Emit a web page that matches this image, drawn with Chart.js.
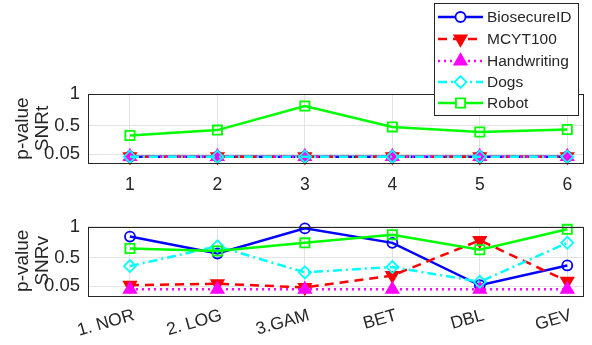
<!DOCTYPE html>
<html><head><meta charset="utf-8">
<script src="https://cdn.jsdelivr.net/npm/chart.js@4/dist/chart.umd.min.js"></script>
<style>
html,body{margin:0;padding:0;background:#fff;width:592px;height:345px;overflow:hidden;}
#c1{position:absolute;left:0;top:0;}
#c2{position:absolute;left:0;top:200px;}
</style></head><body>
<canvas id="c1" width="592" height="200"></canvas>
<canvas id="c2" width="592" height="145"></canvas>
<script>
// ---- data ----
const seriesNames = ['BiosecureID', 'MCYT100', 'Handwriting', 'Dogs', 'Robot'];
const topTickLabels = ['1', '2', '3', '4', '5', '6'];
const bottomCategories = ['1. NOR', '2. LOG', '3.GAM', 'BET', 'DBL', 'GEV'];
const yTickValues = [0.05, 0.5, 1];
const yTickLabels = ['0.05', '0.5', '1'];

// p-value SNRt (top panel)
const snrtBiosecureID = [0.01, 0.01, 0.01, 0.01, 0.01, 0.01];
const snrtMCYT100     = [0.01, 0.01, 0.01, 0.01, 0.01, 0.01];
const snrtHandwriting = [0.01, 0.01, 0.01, 0.01, 0.01, 0.01];
const snrtDogs        = [0.01, 0.01, 0.01, 0.01, 0.01, 0.01];
const snrtRobot       = [0.345, 0.43, 0.81, 0.48, 0.40, 0.44];

// p-value SNRv (bottom panel)
const snrvBiosecureID = [0.84, 0.57, 0.97, 0.74, 0.065, 0.38];
const snrvMCYT100     = [0.065, 0.09, 0.03, 0.22, 0.78, 0.13];
const snrvHandwriting = [0.0, 0.0, 0.0, 0.0, 0.0, 0.0];
const snrvDogs        = [0.37, 0.685, 0.27, 0.355, 0.12, 0.74];
const snrvRobot       = [0.65, 0.61, 0.74, 0.87, 0.63, 0.955];

// ---- styles ----
const FONT = "'Liberation Sans', Arial, Helvetica, sans-serif";
const TXT = '#262626';
const styles = [
  {color:'#0000ff', dash:[], pointStyle:'circle', radius:5, rot:0, fill:false},
  {color:'#ff0000', dash:[9,6], pointStyle:'triangle', radius:7, rot:180, fill:true},
  {color:'#ff00ff', dash:[2,4], pointStyle:'triangle', radius:7, rot:0, fill:true},
  {color:'#00ffff', dash:[9,4,2,4], pointStyle:'rectRot', radius:6, rot:0, fill:false},
  {color:'#00ff00', dash:[], pointStyle:'rect', radius:6.5, rot:0, fill:false}
];

function makeDatasets(arrs){
  return arrs.map((arr, i) => {
    const s = styles[i];
    return {
      label: seriesNames[i],
      data: arr.map((v, k) => ({x: k + 1, y: v})),
      borderColor: s.color,
      backgroundColor: s.color,
      borderWidth: 2.5,
      borderDash: s.dash,
      pointStyle: s.pointStyle,
      pointRadius: s.radius,
      pointRotation: s.rot,
      pointBorderWidth: 1.8,
      pointBorderColor: s.color,
      pointBackgroundColor: s.fill ? s.color : 'rgba(0,0,0,0)',
      tension: 0,
      order: 4 - i,
      clip: false
    };
  });
}

const boxPlugin = {
  id: 'box',
  afterDatasetsDraw(chart) {
    const a = chart.chartArea, ctx = chart.ctx;
    ctx.save();
    ctx.strokeStyle = TXT; ctx.lineWidth = 1;
    ctx.strokeRect(Math.round(a.left) + 0.5, Math.round(a.top) + 0.5,
                   Math.round(a.right - a.left), Math.round(a.bottom - a.top));
    ctx.restore();
  }
};

const legendPlugin = {
  id: 'mlegend',
  afterDraw(chart) {
    const ctx = chart.ctx;
    const x0 = 434, y0 = 3, w = 144, h = 112;
    ctx.save();
    ctx.fillStyle = '#fff';
    ctx.fillRect(x0, y0, w, h);
    ctx.strokeStyle = TXT; ctx.lineWidth = 1;
    ctx.strokeRect(x0 + 0.5, y0 + 0.5, w, h);
    const rows = [17, 39, 61, 82, 103];
    chart.data.datasets.forEach((ds, i) => {
      const s = styles[i];
      const y = rows[i];
      ctx.save();
      ctx.strokeStyle = s.color; ctx.lineWidth = 2.5;
      ctx.setLineDash(s.dash);
      ctx.beginPath(); ctx.moveTo(438, y); ctx.lineTo(483, y); ctx.stroke();
      ctx.restore();
      ctx.save();
      ctx.lineWidth = 1.8; ctx.strokeStyle = s.color;
      ctx.fillStyle = s.fill ? s.color : '#fff';
      Chart.helpers.drawPoint(ctx, {pointStyle: s.pointStyle, radius: s.radius, rotation: s.rot, borderWidth: 1.8}, 460.5, y);
      ctx.restore();
      ctx.fillStyle = TXT;
      ctx.font = '15.5px ' + FONT;
      ctx.textBaseline = 'middle'; ctx.textAlign = 'left';
      ctx.fillText(ds.label, 487, y + 1);
    });
    ctx.restore();
  }
};

function makeOptions(xLabels, rotate, titleText, padTop, xHeight, xPad, xOff) {
  return {
    responsive: false,
    animation: false,
    events: [],
    layout: {padding: {top: padTop, right: 9, left: 0, bottom: 0}},
    plugins: {legend: {display: false}, tooltip: {enabled: false}},
    scales: {
      x: {
        type: 'linear', min: 0.52, max: 6.18,
        afterBuildTicks: s => { s.ticks = xLabels.map((_, k) => ({value: k + 1})); },
        afterFit: s => { s.height = xHeight; },
        grid: {color: '#e3e3e3', drawTicks: false},
        border: {display: false},
        ticks: {
          color: TXT, font: {family: FONT, size: 17.5}, padding: xPad,
          autoSkip: false, minRotation: rotate, maxRotation: rotate,
          labelOffset: xOff,
          callback: v => xLabels[Math.round(v) - 1]
        }
      },
      y: {
        min: -0.09, max: 1,
        afterBuildTicks: s => { s.ticks = yTickValues.map(v => ({value: v})); },
        afterFit: s => { s.width = 88; },
        grid: {color: '#e3e3e3', drawTicks: false},
        border: {display: false},
        ticks: {
          color: TXT, font: {family: FONT, size: 18.5}, padding: 8,
          callback: v => yTickLabels[yTickValues.indexOf(v)]
        },
        title: {
          display: true, text: titleText, color: TXT,
          font: {family: FONT, size: 19, lineHeight: 1.05},
          padding: {top: 13, bottom: 0}
        }
      }
    }
  };
}

new Chart(document.getElementById('c1'), {
  type: 'line',
  data: {datasets: makeDatasets([snrtBiosecureID, snrtMCYT100, snrtHandwriting, snrtDogs, snrtRobot])},
  options: makeOptions(topTickLabels, 0, ['p-value', 'SNRt'], 94, 37, 12, 0),
  plugins: [boxPlugin, legendPlugin]
});

new Chart(document.getElementById('c2'), {
  type: 'line',
  data: {datasets: makeDatasets([snrvBiosecureID, snrvMCYT100, snrvHandwriting, snrvDogs, snrvRobot])},
  options: makeOptions(bottomCategories, 16, ['p-value', 'SNRv'], 26.5, 50, 10, 4),
  plugins: [boxPlugin]
});
</script>
</body></html>
